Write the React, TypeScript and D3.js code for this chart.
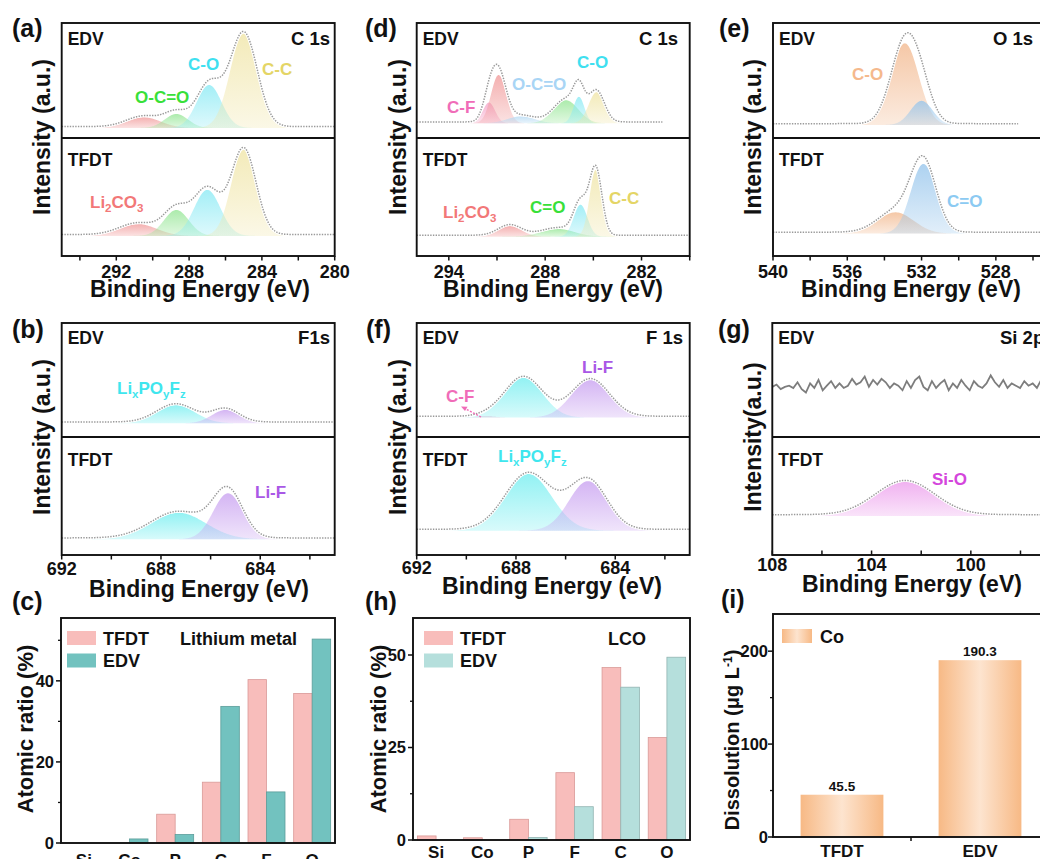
import React from 'react';
import * as d3 from 'd3';

const FONT = "'Liberation Sans', Arial, Helvetica, sans-serif";

type Peak = { id: string; center: number; height: number; fwhm: number };
type Spec = { peaks: Peak[]; base: number; range: [number, number] };

// ---------- XPS peak fits (center eV, height in sub-panel units, FWHM eV) ----------
// (a) C 1s, lithium metal
const aEdvPeaks: Peak[] = [
  { id: 'Li2CO3', center: 290.5, height: 0.093, fwhm: 2.2 },
  { id: 'O-C=O', center: 288.7, height: 0.122, fwhm: 1.5 },
  { id: 'C-O', center: 286.9, height: 0.374, fwhm: 1.6 },
  { id: 'C-C', center: 285.0, height: 0.82, fwhm: 1.75 },
];
const aTfdtPeaks: Peak[] = [
  { id: 'Li2CO3', center: 290.8, height: 0.1, fwhm: 2.4 },
  { id: 'O-C=O', center: 288.7, height: 0.22, fwhm: 1.6 },
  { id: 'C-O', center: 287.0, height: 0.39, fwhm: 1.7 },
  { id: 'C-C', center: 285.0, height: 0.73, fwhm: 1.6 },
];
// (d) C 1s, LCO
const dEdvPeaks: Peak[] = [
  { id: 'C-F1', center: 291.5, height: 0.18, fwhm: 0.9 },
  { id: 'C-F2', center: 290.9, height: 0.42, fwhm: 1.1 },
  { id: 'O-C=O', center: 289.5, height: 0.06, fwhm: 2.0 },
  { id: 'C=O', center: 286.7, height: 0.2, fwhm: 1.8 },
  { id: 'C-O', center: 285.9, height: 0.23, fwhm: 0.8 },
  { id: 'C-C', center: 284.8, height: 0.27, fwhm: 1.15 },
];
const dTfdtPeaks: Peak[] = [
  { id: 'Li2CO3', center: 290.2, height: 0.09, fwhm: 1.7 },
  { id: 'C=O', center: 287.2, height: 0.065, fwhm: 2.4 },
  { id: 'C-O', center: 285.8, height: 0.27, fwhm: 1.0 },
  { id: 'C-C', center: 284.85, height: 0.565, fwhm: 0.9 },
];
// (e) O 1s
const eEdvPeaks: Peak[] = [
  { id: 'C-O', center: 532.9, height: 0.71, fwhm: 1.75 },
  { id: 'C=O', center: 532.0, height: 0.21, fwhm: 1.4 },
];
const eTfdtPeaks: Peak[] = [
  { id: 'C-O', center: 533.4, height: 0.18, fwhm: 2.3 },
  { id: 'C=O', center: 531.9, height: 0.59, fwhm: 1.6 },
];
// (b) F 1s, lithium metal
const bEdvPeaks: Peak[] = [
  { id: 'LiPOF', center: 687.4, height: 0.16, fwhm: 1.8 },
  { id: 'Li-F', center: 685.4, height: 0.117, fwhm: 1.3 },
];
const bTfdtPeaks: Peak[] = [
  { id: 'LiPOF', center: 687.3, height: 0.225, fwhm: 2.6 },
  { id: 'Li-F', center: 685.3, height: 0.39, fwhm: 1.4 },
];
// (f) F 1s, LCO
const fEdvPeaks: Peak[] = [
  { id: 'C-F', center: 689.2, height: 0.01, fwhm: 1.0 },
  { id: 'LiPOF', center: 687.7, height: 0.35, fwhm: 1.8 },
  { id: 'Li-F', center: 685.0, height: 0.33, fwhm: 1.8 },
];
const fTfdtPeaks: Peak[] = [
  { id: 'LiPOF', center: 687.5, height: 0.48, fwhm: 2.2 },
  { id: 'Li-F', center: 685.1, height: 0.42, fwhm: 1.8 },
];
// (g) Si 2p
const gTfdtPeaks: Peak[] = [{ id: 'Si-O', center: 102.65, height: 0.29, fwhm: 2.8 }];
const gEdvNoise = [
  0.44, 0.46, 0.42, 0.44, 0.45, 0.43, 0.48, 0.42, 0.39, 0.47, 0.43, 0.5, 0.41, 0.45, 0.49, 0.43,
  0.47, 0.43, 0.45, 0.51, 0.46, 0.48, 0.53, 0.44, 0.5, 0.46, 0.51, 0.48, 0.43, 0.47, 0.45, 0.41,
  0.49, 0.43, 0.5, 0.53, 0.44, 0.41, 0.49, 0.43, 0.47, 0.5, 0.41, 0.47, 0.43, 0.5, 0.45, 0.41,
  0.49, 0.45, 0.43, 0.47, 0.54, 0.48, 0.44, 0.5, 0.43, 0.47, 0.45, 0.43, 0.49, 0.45, 0.47, 0.43,
  0.5, 0.46,
];

// ---------- Atomic ratio bars ----------
const elementsC = ['Si', 'Co', 'P', 'C', 'F', 'O'];
const tfdtC = [0, 0, 7.1, 15.0, 40.3, 36.9];
const edvC = [0, 1.0, 2.1, 33.7, 12.6, 50.3];

const elementsH = ['Si', 'Co', 'P', 'F', 'C', 'O'];
const tfdtH = [1.1, 0.6, 5.6, 18.2, 46.6, 27.7];
const edvH = [0, 0, 0.7, 9.0, 41.3, 49.4];

const groupsI = ['TFDT', 'EDV'];
const coDissolution = [45.5, 190.3];

// ---------- styles ----------
const FILL: Record<string, string> = {
  red: '#f19a9a', green: '#95e695', cyan: '#8aeaf4', yellow: '#f0e5a6', pink: '#f3a0c6',
  lblue: '#b4d9f3', orange: '#f2b88e', blue: '#96c5ec', aqua: '#74eef0', purple: '#c8a0f0',
  magenta: '#ec9cec',
};
const TXT: Record<string, string> = {
  red: '#f27878', green: '#39e039', cyan: '#3fe0f0', yellow: '#e4d566', pink: '#f06cb8',
  lblue: '#a9d5f5', orange: '#f5b98d', blue: '#8ccaf2', aqua: '#3fe6ee', purple: '#a958e6',
  magenta: '#d445dc',
};

const W = 273;
const ROWS = [
  { top: 23, mid: 138, bottom: 256, edvY: 45, tfdtY: 166, ylabY: 137 },
  { top: 323, mid: 437, bottom: 555, edvY: 344, tfdtY: 466, ylabY: 437 },
];

type Label = { parts: (string | [string])[]; x: number; y: number; color: string; anchor?: string };

function Chem({ parts, x, y, color, size = 17, anchor = 'start' }: any) {
  let sub = false;
  const kids: any[] = [];
  parts.forEach((pt: any, i: number) => {
    if (typeof pt === 'string') {
      kids.push(<tspan key={i} dy={sub ? -4 : 0}>{pt}</tspan>);
      sub = false;
    } else {
      kids.push(<tspan key={i} fontSize={size * 0.68} dy={sub ? 0 : 4}>{pt[0]}</tspan>);
      sub = true;
    }
  });
  return (
    <text x={x} y={y} fill={color} fontSize={size} fontWeight="bold" textAnchor={anchor}>
      {kids}
    </text>
  );
}

function gauss(p: Peak, v: number) {
  return p.height * Math.exp(-4 * Math.LN2 * ((v - p.center) / p.fwhm) ** 2);
}

function SpectrumView({ spec, colors, x, y }: { spec: Spec; colors: Record<string, string>; x: any; y: any }) {
  const [a, b] = spec.range;
  const xs = d3.range(a, b - 1e-9, -0.02).concat([b]);
  const areas = spec.peaks.map((pk, i) => {
    const sub = xs.filter((v) => Math.abs(v - pk.center) < pk.fwhm * 2.6);
    const gen = d3
      .area<number>()
      .x((v) => x(v))
      .y0(y(spec.base))
      .y1((v) => y(spec.base + gauss(pk, v)));
    return <path key={i} d={gen(sub) || ''} fill={`url(#g-${colors[pk.id]})`} />;
  });
  const env = d3
    .line<number>()
    .x((v) => x(v))
    .y((v) => y(spec.base + d3.sum(spec.peaks, (pk) => gauss(pk, v)) + 0.012));
  const d = env(xs) || '';
  return (
    <g>
      {areas}
      <path d={d} fill="none" stroke="#fff" strokeWidth={3.2} />
      <path d={d} fill="none" stroke="#9a9a9a" strokeWidth={1.5} strokeDasharray="1.4 1.3" />
    </g>
  );
}

function XpsPanel({ p }: { p: any }) {
  const row = ROWS[p.row];
  const x = d3.scaleLinear().domain(p.domain).range([p.left, p.left + W]);
  const yTop = d3.scaleLinear().domain([0, 1]).range([row.mid, row.top]);
  const yBot = d3.scaleLinear().domain([0, 1]).range([row.bottom, row.mid]);
  const clip = `clip-${p.key}`;
  const tl = p.tickOut ? 4.5 : -4.5;
  return (
    <g>
      <clipPath id={clip}>
        <rect x={p.left} y={row.top} width={W} height={row.bottom - row.top} />
      </clipPath>
      <g clipPath={`url(#${clip})`}>
        {p.top && <SpectrumView spec={p.top} colors={p.colors} x={x} y={yTop} />}
        {p.noise && (
          <path
            d={
              d3
                .line<number>()
                .x((v, i) => x(p.domain[0] - (i * (p.domain[0] - p.domain[1])) / (p.noise.length - 1)))
                .y((v) => yTop(v))(p.noise) || ''
            }
            fill="none"
            stroke="#7d7d7d"
            strokeWidth={1.8}
          />
        )}
        {p.bottom && <SpectrumView spec={p.bottom} colors={p.colors} x={x} y={yBot} />}
      </g>
      <rect x={p.left} y={row.top} width={W} height={row.bottom - row.top} fill="none" stroke="#111" strokeWidth={1.9} />
      <line x1={p.left} x2={p.left + W} y1={row.mid} y2={row.mid} stroke="#111" strokeWidth={1.9} />
      {p.major.concat(p.minor).map((t: number) => (
        <line key={t} x1={x(t)} x2={x(t)} y1={row.bottom} y2={row.bottom + tl} stroke="#111" strokeWidth={1.5} />
      ))}
      {p.major.map((t: number) => (
        <text key={t} x={x(t)} y={p.tickY} textAnchor="middle" fontSize={18} fontWeight="bold" fill="#111">
          {t}
        </text>
      ))}
      <text x={p.titleX} y={p.titleY} textAnchor="middle" fontSize={23} fontWeight="bold" fill="#111">
        Binding Energy (eV)
      </text>
      <text
        transform={`translate(${p.ylabX},${row.ylabY}) rotate(-90)`}
        textAnchor="middle"
        dy="0.35em"
        fontSize={p.ylabSize || 23}
        fontWeight="bold"
        fill="#111"
      >
        {p.ylabel}
      </text>
      <text x={p.left + 6} y={row.edvY} fontSize={17.5} fontWeight="bold" fill="#111">EDV</text>
      <text x={p.left + 6} y={row.tfdtY} fontSize={17.5} fontWeight="bold" fill="#111">TFDT</text>
      <text x={p.coreX} y={row.edvY} textAnchor={p.coreAnchor} fontSize={18.5} fontWeight="bold" fill="#111">
        {p.core}
      </text>
      <text x={p.letterX} y={p.letterY} fontSize={25} fontWeight="bold" fill="#111">{p.letter}</text>
      {p.labels.map((l: Label, i: number) => (
        <Chem key={i} parts={l.parts} x={l.x} y={l.y} color={TXT[l.color]} anchor={l.anchor} />
      ))}
      {p.extra}
    </g>
  );
}

const panels = [
  {
    key: 'a', letter: '(a)', letterX: 12, letterY: 37, left: 61.7, row: 0, domain: [295, 280],
    major: [292, 288, 284, 280], minor: [294, 290, 286, 282], tickOut: true, tickY: 278, titleX: 200, titleY: 297,
    ylabel: 'Intensity (a.u.)', ylabX: 42, core: 'C 1s', coreX: 330, coreAnchor: 'end',
    top: { peaks: aEdvPeaks, base: 0.087, range: [295, 280] },
    bottom: { peaks: aTfdtPeaks, base: 0.17, range: [295, 280] },
    colors: { Li2CO3: 'red', 'O-C=O': 'green', 'C-O': 'cyan', 'C-C': 'yellow' },
    labels: [
      { parts: ['C-O'], x: 188, y: 70, color: 'cyan' },
      { parts: ['C-C'], x: 262, y: 75, color: 'yellow' },
      { parts: ['O-C=O'], x: 135, y: 103, color: 'green' },
      { parts: ['Li', ['2'], 'CO', ['3']], x: 90, y: 208, color: 'red' },
    ],
  },
  {
    key: 'd', letter: '(d)', letterX: 365, letterY: 37, left: 416.7, row: 0, domain: [296, 279],
    major: [294, 288, 282], minor: [291, 285, 279], tickOut: true, tickY: 278, titleX: 553, titleY: 297,
    ylabel: 'Intensity (a.u.)', ylabX: 398, core: 'C 1s', coreX: 678, coreAnchor: 'end',
    top: { peaks: dEdvPeaks, base: 0.128, range: [296, 280.7] },
    bottom: { peaks: dTfdtPeaks, base: 0.164, range: [296, 279] },
    colors: { 'C-F1': 'pink', 'C-F2': 'red', 'O-C=O': 'lblue', 'C=O': 'green', 'C-O': 'cyan', 'C-C': 'yellow', Li2CO3: 'red' },
    labels: [
      { parts: ['C-F'], x: 447, y: 113, color: 'pink' },
      { parts: ['O-C=O'], x: 512, y: 90, color: 'lblue' },
      { parts: ['C-O'], x: 577, y: 68, color: 'cyan' },
      { parts: ['Li', ['2'], 'CO', ['3']], x: 443, y: 218, color: 'red' },
      { parts: ['C=O'], x: 530, y: 213, color: 'green' },
      { parts: ['C-C'], x: 609, y: 204, color: 'yellow' },
    ],
  },
  {
    key: 'e', letter: '(e)', letterX: 719, letterY: 37, left: 773, row: 0, domain: [540, 525.3],
    major: [540, 536, 532, 528], minor: [538, 534, 530, 526], tickOut: true, tickY: 278, titleX: 911, titleY: 297,
    ylabel: 'Intensity (a.u.)', ylabX: 753, core: 'O 1s', coreX: 993, coreAnchor: 'start',
    top: { peaks: eEdvPeaks, base: 0.113, range: [540, 526.8] },
    bottom: { peaks: eTfdtPeaks, base: 0.19, range: [540, 525.3] },
    colors: { 'C-O': 'orange', 'C=O': 'blue' },
    labels: [
      { parts: ['C-O'], x: 852, y: 80, color: 'orange' },
      { parts: ['C=O'], x: 947, y: 207, color: 'blue' },
    ],
  },
  {
    key: 'b', letter: '(b)', letterX: 12, letterY: 338, left: 61.7, row: 1, domain: [692, 681],
    major: [692, 688, 684], minor: [690, 686, 682], tickOut: true, tickY: 575, titleX: 199, titleY: 597,
    ylabel: 'Intensity (a.u.)', ylabX: 42, core: 'F1s', coreX: 330, coreAnchor: 'end',
    top: { peaks: bEdvPeaks, base: 0.12, range: [692, 681] },
    bottom: { peaks: bTfdtPeaks, base: 0.133, range: [692, 681] },
    colors: { LiPOF: 'aqua', 'Li-F': 'purple' },
    labels: [
      { parts: ['Li', ['x'], 'PO', ['y'], 'F', ['z']], x: 117, y: 394, color: 'aqua' },
      { parts: ['Li-F'], x: 255, y: 498, color: 'purple' },
    ],
  },
  {
    key: 'f', letter: '(f)', letterX: 366, letterY: 338, left: 416.7, row: 1, domain: [692, 681],
    major: [692, 688, 684], minor: [690, 686, 682], tickOut: true, tickY: 574, titleX: 552, titleY: 594,
    ylabel: 'Intensity (a.u.)', ylabX: 398, core: 'F 1s', coreX: 683, coreAnchor: 'end',
    top: { peaks: fEdvPeaks, base: 0.17, range: [692, 681] },
    bottom: { peaks: fTfdtPeaks, base: 0.206, range: [692, 681] },
    colors: { 'C-F': 'pink', LiPOF: 'aqua', 'Li-F': 'purple' },
    labels: [
      { parts: ['C-F'], x: 446, y: 402, color: 'pink' },
      { parts: ['Li-F'], x: 582, y: 373, color: 'purple' },
      { parts: ['Li', ['x'], 'PO', ['y'], 'F', ['z']], x: 498, y: 462, color: 'aqua' },
    ],
    extra: (
      <g>
        <line x1={481} y1={417} x2={464} y2={408} stroke="#f06cb8" strokeWidth={1.4} strokeDasharray="2 1.5" />
        <path d="M461,406.5 L467.5,406.8 L465,411 Z" fill="#f06cb8" />
      </g>
    ),
  },
  {
    key: 'g', letter: '(g)', letterX: 718, letterY: 338, left: 772.3, row: 1, domain: [108, 97],
    major: [108, 104, 100], minor: [106, 102, 98], tickOut: false, tickY: 571, titleX: 912, titleY: 592,
    ylabel: 'Intensity(a.u.)', ylabX: 753, core: 'Si 2p', coreX: 1000, coreAnchor: 'start',
    noise: gEdvNoise,
    bottom: { peaks: gTfdtPeaks, base: 0.33, range: [108, 97] },
    colors: { 'Si-O': 'magenta' },
    labels: [{ parts: ['Si-O'], x: 932, y: 485, color: 'magenta' }],
  },
];

function AtomicBars({ cats, tfdt, edv, left, right, top, bottom, ymax, major, minor, colEdv, letter, letterX, tag, tagX, labX, legendX, catY }: any) {
  const x = d3.scaleBand<string>().domain(cats).range([left, right]).paddingInner(0.19).paddingOuter(0.095);
  const x1 = d3.scaleBand<string>().domain(['TFDT', 'EDV']).range([0, x.bandwidth()]);
  const y = d3.scaleLinear().domain([0, ymax]).range([bottom, top]);
  const series = [
    { name: 'TFDT', vals: tfdt, fill: '#f8bdbb', stroke: '#d99a98' },
    { name: 'EDV', vals: edv, fill: colEdv, stroke: d3.color(colEdv)!.darker(0.6).toString() },
  ];
  const clip = `clip-${letter}`;
  return (
    <g>
      <clipPath id={clip}>
        <rect x={left} y={top} width={right - left} height={bottom - top} />
      </clipPath>
      <g clipPath={`url(#${clip})`}>
        {series.map((s) =>
          cats.map((c: string, i: number) =>
            s.vals[i] > 0 ? (
              <rect
                key={s.name + c}
                x={x(c)! + x1(s.name)!}
                y={y(s.vals[i])}
                width={x1.bandwidth()}
                height={y(0) - y(s.vals[i])}
                fill={s.fill}
                stroke={s.stroke}
                strokeWidth={0.8}
              />
            ) : null
          )
        )}
      </g>
      <rect x={left} y={top} width={right - left} height={bottom - top} fill="none" stroke="#111" strokeWidth={1.9} />
      {major.map((t: number) => (
        <g key={t}>
          <line x1={left} x2={left - 5} y1={y(t)} y2={y(t)} stroke="#111" strokeWidth={1.5} />
          <text x={left - 7} y={y(t)} dy="0.35em" textAnchor="end" fontSize={16.5} fontWeight="bold" fill="#111">
            {t}
          </text>
        </g>
      ))}
      {minor.map((t: number) => (
        <line key={t} x1={left} x2={left - 3} y1={y(t)} y2={y(t)} stroke="#111" strokeWidth={1.3} />
      ))}
      {cats.map((c: string) => (
        <text key={c} x={x(c)! + x.bandwidth() / 2} y={catY} textAnchor="middle" fontSize={17} fontWeight="bold" fill="#111">
          {c}
        </text>
      ))}
      <text
        transform={`translate(${labX},729) rotate(-90)`}
        textAnchor="middle"
        dy="0.35em"
        fontSize={22}
        fontWeight="bold"
        fill="#111"
      >
        Atomic ratio (%)
      </text>
      {series.map((s, i) => (
        <g key={s.name}>
          <rect x={legendX} y={631 + i * 22.5} width={29} height={14} fill={s.fill} />
          <text x={legendX + 36} y={644.5 + i * 22.5} fontSize={18} fontWeight="bold" fill="#111">
            {s.name}
          </text>
        </g>
      ))}
      <text x={tagX} y={644.5} fontSize={18} fontWeight="bold" fill="#111">{tag}</text>
      <text x={letterX} y={610} fontSize={25} fontWeight="bold" fill="#111">{letter}</text>
    </g>
  );
}

function DissolutionBars() {
  const left = 773, right = 1049, top = 614, bottom = 837;
  const x = d3.scaleBand<string>().domain(groupsI).range([left, right]).paddingInner(0.4).paddingOuter(0.2);
  const y = d3.scaleLinear().domain([0, 240]).range([bottom, top]);
  const mid = (x('TFDT')! + x.bandwidth() + x('EDV')!) / 2;
  return (
    <g>
      <defs>
        <linearGradient id="coGrad" x1="0" x2="1" y1="0" y2="0">
          <stop offset="0" stopColor="#f7b985" />
          <stop offset="0.5" stopColor="#fde4cf" />
          <stop offset="1" stopColor="#f7b985" />
        </linearGradient>
      </defs>
      {groupsI.map((g, i) => (
        <g key={g}>
          <rect x={x(g)} y={y(coDissolution[i])} width={x.bandwidth()} height={y(0) - y(coDissolution[i])} fill="url(#coGrad)" />
          <text x={x(g)! + x.bandwidth() / 2} y={y(coDissolution[i]) - 4} textAnchor="middle" fontSize={13.5} fontWeight="bold" fill="#111">
            {coDissolution[i].toFixed(1)}
          </text>
          <text x={x(g)! + x.bandwidth() / 2} y={857} textAnchor="middle" fontSize={17} fontWeight="bold" fill="#111">
            {g}
          </text>
        </g>
      ))}
      <rect x={left} y={top} width={right - left} height={bottom - top} fill="none" stroke="#111" strokeWidth={1.9} />
      {[0, 100, 200].map((t) => (
        <g key={t}>
          <line x1={left} x2={left - 5} y1={y(t)} y2={y(t)} stroke="#111" strokeWidth={1.5} />
          <text x={left - 5} y={y(t)} dy="0.35em" textAnchor="end" fontSize={16.5} fontWeight="bold" fill="#111">
            {t}
          </text>
        </g>
      ))}
      {[50, 150].map((t) => (
        <line key={t} x1={left} x2={left - 3} y1={y(t)} y2={y(t)} stroke="#111" strokeWidth={1.3} />
      ))}
      <line x1={mid} x2={mid} y1={bottom} y2={bottom + 4} stroke="#111" strokeWidth={1.5} />
      <rect x={782} y={629} width={30} height={14} fill="url(#coGrad)" />
      <text x={820} y={643} fontSize={18} fontWeight="bold" fill="#111">Co</text>
      <text transform="translate(732,740) rotate(-90)" textAnchor="middle" dy="0.35em" fontSize={20} fontWeight="bold" fill="#111">
        Dissolution (μg L<tspan dy={-7} fontSize={12}>-1</tspan><tspan dy={7}>)</tspan>
      </text>
      <text x={721} y={608} fontSize={25} fontWeight="bold" fill="#111">(i)</text>
    </g>
  );
}

export default function App() {
  return (
    <svg
      width={1040}
      height={859}
      style={{ position: 'absolute', left: 0, top: 0, background: '#fff' }}
      fontFamily={FONT}
    >
      <defs>
        {Object.entries(FILL).map(([k, c]) => (
          <linearGradient key={k} id={`g-${k}`} x1="0" x2="0" y1="0" y2="1">
            <stop offset="0" stopColor={c} stopOpacity={0.78} />
            <stop offset="1" stopColor={c} stopOpacity={0.28} />
          </linearGradient>
        ))}
      </defs>
      <rect x={0} y={0} width={1040} height={859} fill="#fff" />
      {panels.map((p) => (
        <XpsPanel key={p.key} p={p} />
      ))}
      <AtomicBars
        cats={elementsC} tfdt={tfdtC} edv={edvC} left={61} right={335} top={618} bottom={843} ymax={55.5}
        major={[0, 20, 40]} minor={[10, 30, 50]} colEdv="#72c2bf" letter="(c)" letterX={12}
        tag="Lithium metal" tagX={180} labX={25} legendX={67} catY={866}
      />
      <AtomicBars
        cats={elementsH} tfdt={tfdtH} edv={edvH} left={413} right={690} top={618} bottom={840} ymax={60}
        major={[0, 25, 50]} minor={[12.5, 37.5]} colEdv="#b5dfdc" letter="(h)" letterX={365}
        tag="LCO" tagX={608} labX={378} legendX={424} catY={858}
      />
      <DissolutionBars />
    </svg>
  );
}
